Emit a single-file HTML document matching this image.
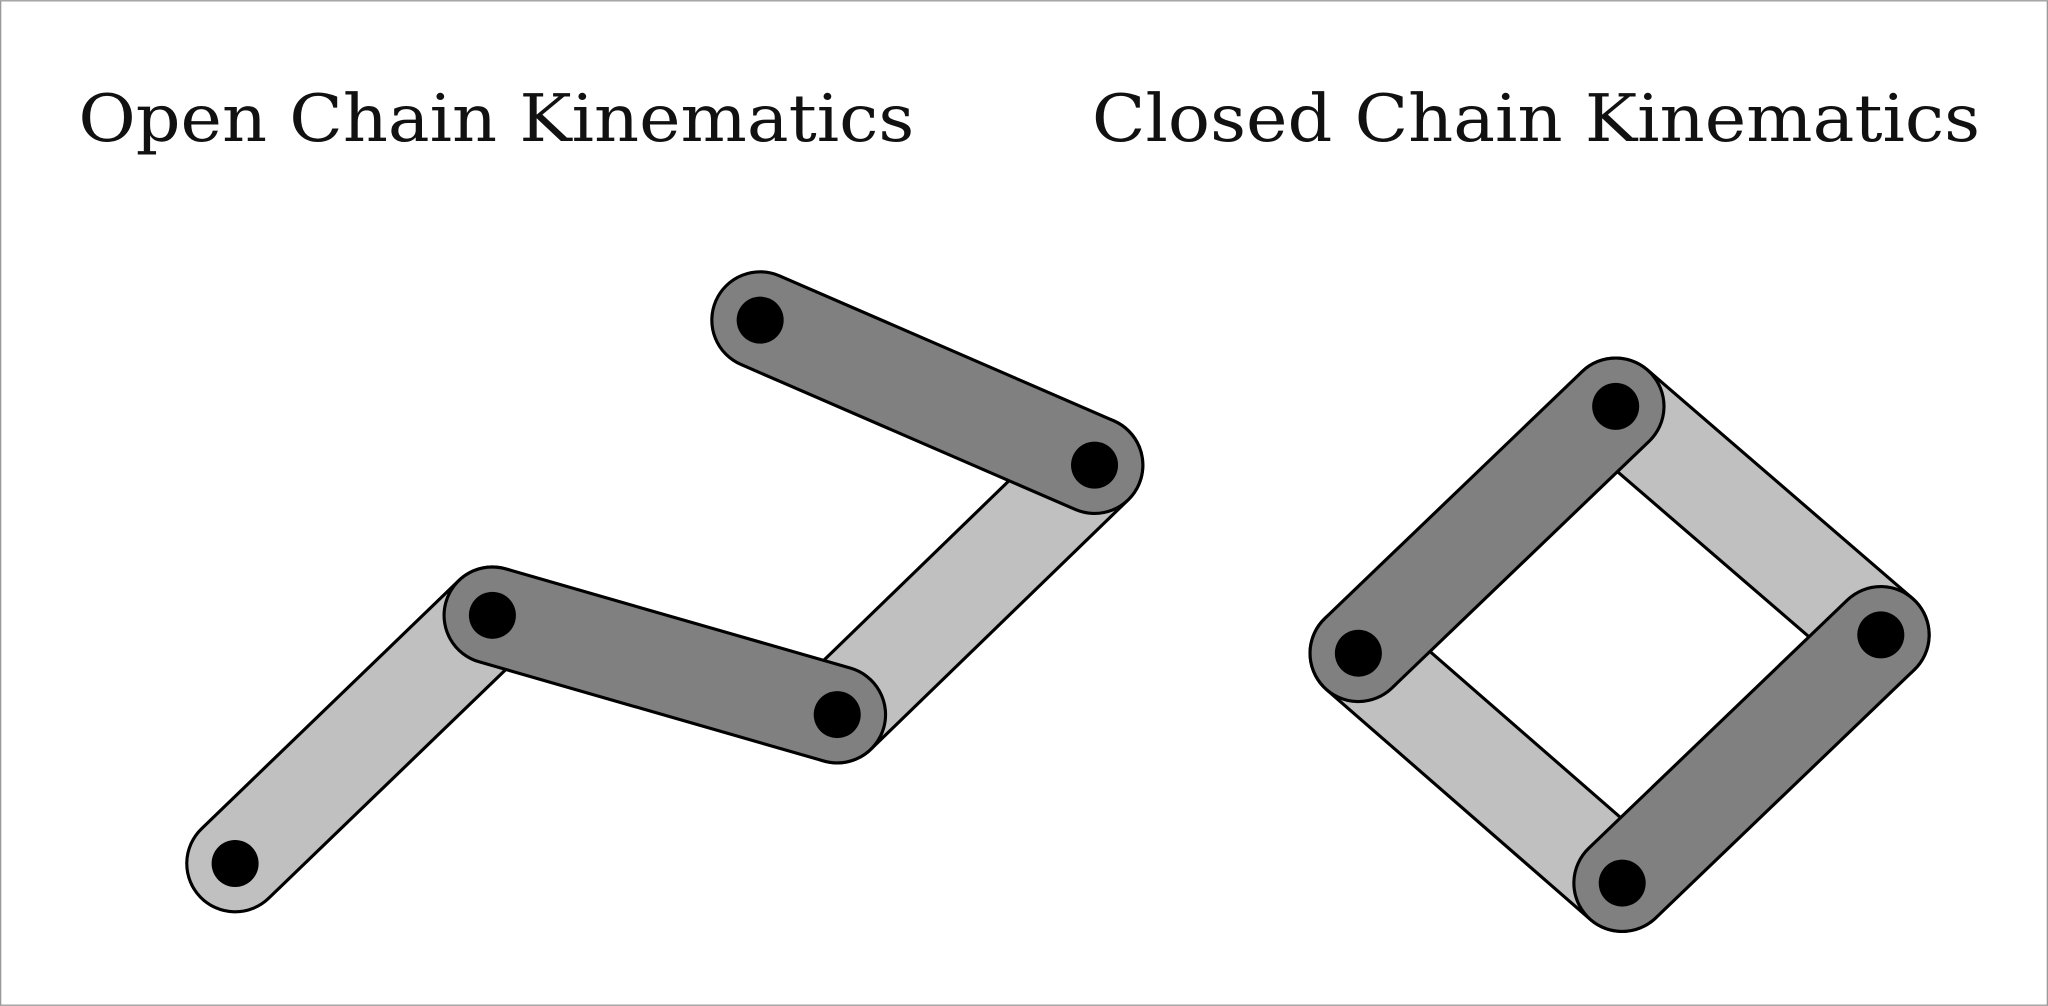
<!DOCTYPE html>
<html><head><meta charset="utf-8"><style>
html,body{margin:0;padding:0;background:#fff;}
svg{display:block;}
</style></head><body>
<svg id="fig" width="2048" height="1006" viewBox="0 0 1568 770" xmlns="http://www.w3.org/2000/svg">
<rect x="0.5" y="0.5" width="1567" height="769" fill="#fff" stroke="#999" stroke-width="1"/>
<text x="60" y="108" textLength="640" lengthAdjust="spacingAndGlyphs" font-family="'DejaVu Serif', serif" font-size="50" fill="#111">Open Chain Kinematics</text>
<text x="836" y="108" textLength="680" lengthAdjust="spacingAndGlyphs" font-family="'DejaVu Serif', serif" font-size="50" fill="#111">Closed Chain Kinematics</text>
<g id="links"></g>
<g id="joints"></g>
</svg>
<script>
const openJoints = [[180,661],[377,471],[641,547],[838,356],[582,245]];
const openLinks = [[0,1,'light'],[2,3,'light'],[1,2,'dark'],[3,4,'dark']];
const closedJoints = [[1040,500],[1237,311],[1440,486],[1242,676]];
const closedLinks = [[1,2,'light'],[0,3,'light'],[0,1,'dark'],[3,2,'dark']];
const NS='http://www.w3.org/2000/svg';
const linksG=document.getElementById('links');
const jointsG=document.getElementById('joints');
const R=37;
function drawSet(joints,links,prefix){
  links.forEach(function(l){
    const a=joints[l[0]],b=joints[l[1]];
    const dx=b[0]-a[0],dy=b[1]-a[1];
    const len=Math.hypot(dx,dy);
    const ang=Math.atan2(dy,dx)*180/Math.PI;
    const r=document.createElementNS(NS,'rect');
    r.setAttribute('x',-R);r.setAttribute('y',-R);
    r.setAttribute('width',len+2*R);r.setAttribute('height',2*R);
    r.setAttribute('rx',R);r.setAttribute('ry',R);
    r.setAttribute('fill',l[2]==='light'?'#c0c0c0':'#808080');
    r.setAttribute('stroke','#000');r.setAttribute('stroke-width','2.4');
    r.setAttribute('transform','translate('+a[0]+','+a[1]+') rotate('+ang+')');
    
    
    linksG.appendChild(r);
  });
  joints.forEach(function(j){
    const c=document.createElementNS(NS,'circle');
    c.setAttribute('cx',j[0]);c.setAttribute('cy',j[1]);c.setAttribute('r',18);
    c.setAttribute('fill','#000');
    
    
    jointsG.appendChild(c);
  });
}
drawSet(openJoints,openLinks,'open-chain');
drawSet(closedJoints,closedLinks,'closed-chain');
</script>
</body></html>
